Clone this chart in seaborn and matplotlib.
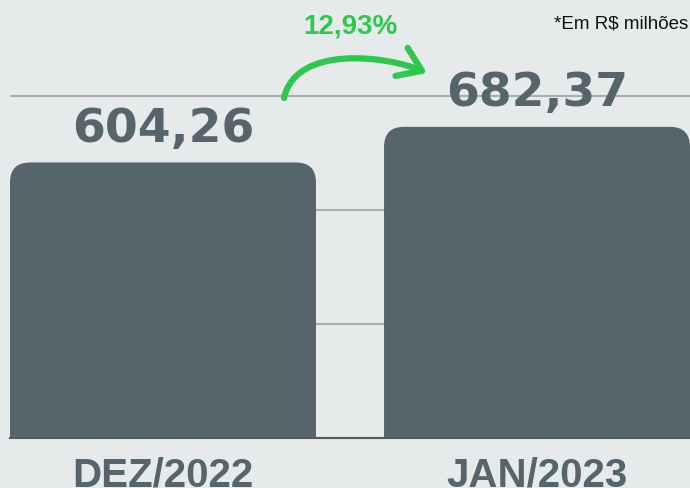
import matplotlib
matplotlib.use('Agg')
import matplotlib.pyplot as plt
from matplotlib.patches import FancyBboxPatch, FancyArrowPatch
from matplotlib.path import Path
import seaborn as sns
import pandas as pd

# dados
meses = ['DEZ/2022', 'JAN/2023']
valores = [604.26, 682.37]
rotulos = ['604,26', '682,37']
variacao = '12,93%'
nota = '*Em R$ milhões'

fundo = '#e6eaea'
cor_barra = '#56656c'
verde = '#2ec84e'

sns.set_theme(style='white', rc={'axes.facecolor': fundo, 'figure.facecolor': fundo})
plt.rcParams['font.family'] = ['Liberation Sans', 'DejaVu Sans']

df = pd.DataFrame({'mes': meses, 'valor': valores})

fig = plt.figure(figsize=(6.9, 4.88), dpi=100)
ax = fig.add_axes([10 / 690, 50 / 488, 680 / 690, 438 / 488])
sns.barplot(data=df, x='mes', y='valor', color=cor_barra, width=0.818,
            saturation=1, ax=ax, zorder=2)

xlim = (-0.409, 1.409)
ylim = (0, 438 / 0.456)

# barras com cantos superiores arredondados
aspecto = (ylim[1] / 438) / ((xlim[1] - xlim[0]) / 680)
for p in list(ax.patches):
    x, w, h = p.get_x(), p.get_width(), p.get_height()
    p.set_visible(False)
    ax.add_patch(FancyBboxPatch((x, -100), w, h + 100,
                                boxstyle='round,pad=0,rounding_size=0.0535',
                                mutation_aspect=aspecto, fc=cor_barra,
                                ec='none', zorder=2))
    ax.annotate(rotulos[int(round(x + w / 2))], (x + w / 2, h),
                xytext=(0, 15), textcoords='offset points',
                ha='center', va='baseline', fontsize=34, fontweight='bold',
                color=cor_barra, family='DejaVu Sans')

ax.set_xlim(*xlim)
ax.set_ylim(*ylim)
ax.set_yticks([250, 500, 750])
ax.set_yticklabels([])
ax.grid(axis='y', color='#aaadad', lw=1.5)
ax.grid(axis='x', visible=False)
ax.set_axisbelow(True)
for s in ['left', 'right', 'top']:
    ax.spines[s].set_visible(False)
ax.spines['bottom'].set_color('#555b5d')
ax.spines['bottom'].set_linewidth(1.5)
ax.set_xlabel('')
ax.set_ylabel('')
ax.tick_params(axis='y', length=0)
ax.tick_params(axis='x', length=0, pad=13, labelcolor=cor_barra)
for lbl in ax.get_xticklabels():
    lbl.set_fontweight('bold')
    lbl.set_family('Liberation Sans')
    lbl.set_fontsize(29)

# seta curva de variacao (pixels a partir do canto superior esquerdo)
pts = [(284, 98), (296, 44), (388, 56), (427, 73)]
caminho = Path([(px / 690, 1 - py / 488) for px, py in pts],
               [Path.MOVETO, Path.CURVE4, Path.CURVE4, Path.CURVE4])
seta = FancyArrowPatch(path=caminho, transform=fig.transFigure,
                       arrowstyle='->,head_length=0.8,head_width=0.55',
                       mutation_scale=20, lw=4.5, color=verde,
                       capstyle='round', joinstyle='round')
fig.add_artist(seta)
fig.text(350 / 690, 1 - 27 / 488, variacao, ha='center', va='center',
         fontsize=20, fontweight='bold', color=verde)
fig.text(688 / 690, 1 - 24 / 488, nota, ha='right', va='center',
         fontsize=13.5, color='#111111')

fig.savefig('out.png', dpi=100, facecolor=fundo)
